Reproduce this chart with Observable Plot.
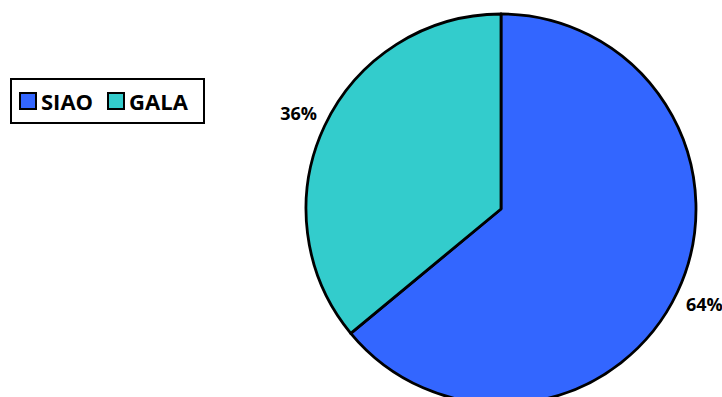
<!DOCTYPE html>
<html>
<head>
<meta charset="utf-8">
<script src="https://cdn.jsdelivr.net/npm/d3@7"></script>
<script src="https://cdn.jsdelivr.net/npm/@observablehq/plot@0.6"></script>
<style>
  html, body { margin: 0; padding: 0; background: #fff; overflow: hidden; }
  #wrap { position: relative; width: 722px; height: 397px; }
  #legend { position: absolute; left: 10px; top: 78px; width: 191px; height: 42px;
    border: 2px solid #000; background: #fff; display: flex; align-items: center;
    font-family: "Open Sans", sans-serif; font-weight: 700; font-size: 22px; color: #000; }
  .item { display: flex; align-items: center; margin-left: 7px; }
  .item + .item { margin-left: 14px; }
  .sw { width: 14px; height: 14px; border: 2px solid #000; margin-right: 4px; }
</style>
</head>
<body>
<div id="wrap">
  <div id="chart"></div>
  <div id="legend"></div>
</div>
<script>
const categories = ["SIAO", "GALA"];
const shares = [64, 36];
const labels = ["64%", "36%"];
const colors = ["#3366FF", "#33CCCC"];

const color = Plot.scale({color: {type: "ordinal", domain: categories, range: colors}});

const pie = d3.pie().sort(null).value(d => d.value)(
  categories.map((c, i) => ({category: c, value: shares[i], label: labels[i]}))
);
const labelR = 1.15;
const labelData = pie.map(p => {
  const a = (p.startAngle + p.endAngle) / 2;
  return {label: p.data.label, x: labelR * Math.sin(a), y: labelR * Math.cos(a)};
});

function slices(index, scales, values, dimensions) {
  const cx = scales.x(0), cy = scales.y(0);
  const r = scales.x(1) - scales.x(0);
  const arc = d3.arc().innerRadius(0).outerRadius(r);
  const g = d3.create("svg:g").attr("transform", `translate(${cx},${cy})`);
  g.selectAll("path").data(pie).join("path")
    .attr("d", arc)
    .attr("fill", d => color.apply(d.data.category))
    .attr("stroke", "#000")
    .attr("stroke-width", 2.8)
    .attr("stroke-linejoin", "round");
  return g.node();
}

const chart = Plot.plot({
  width: 722,
  height: 397,
  margin: 0,
  x: {type: "linear", domain: [-1, 1], range: [306, 696], axis: null},
  y: {type: "linear", domain: [-1, 1], range: [404, 14], axis: null},
  style: {overflow: "visible", background: "transparent"},
  marks: [
    slices,
    Plot.text(labelData, {x: "x", y: "y", text: "label", fill: "#000",
      fontSize: 18, fontWeight: 700, fontFamily: "Open Sans"})
  ]
});
document.getElementById("chart").appendChild(chart);

const legend = document.getElementById("legend");
categories.forEach(c => {
  const item = document.createElement("div");
  item.className = "item";
  const sw = document.createElement("div");
  sw.className = "sw";
  sw.style.background = color.apply(c);
  const t = document.createElement("span");
  t.textContent = c;
  item.appendChild(sw);
  item.appendChild(t);
  legend.appendChild(item);
});
</script>
</body>
</html>
